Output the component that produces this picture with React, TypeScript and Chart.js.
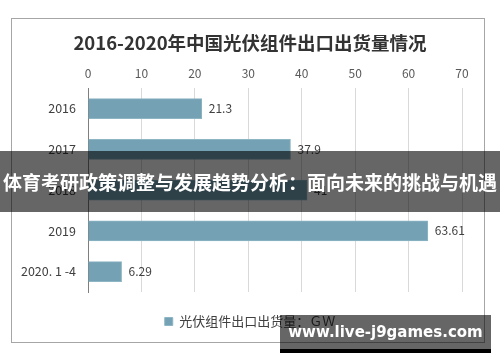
import React, { useEffect, useRef } from "react";
import { Chart, registerables } from "chart.js";

Chart.register(...registerables);

const categories = ["2016", "2017", "2018", "2019", "2020. 1 -4"];
const exportValues = [21.3, 37.9, 41, 63.61, 6.29];
const valueLabels = ["21.3", "37.9", "41", "63.61", "6.29"];
const xTicks = [0, 10, 20, 30, 40, 50, 60, 70];
const seriesName = "光伏组件出口出货量：ＧＷ";
const chartTitle = "2016-2020年中国光伏组件出口出货量情况";
const bannerText = "体育考研政策调整与发展趋势分析：面向未来的挑战与机遇";
const watermarkText = "www.live-j9games.com";

const FONT = "'Noto Sans CJK SC', 'Noto Sans', sans-serif";

const valueLabelPlugin = {
  id: "valueLabels",
  afterDatasetsDraw(chart: any) {
    const ctx = chart.ctx;
    const meta = chart.getDatasetMeta(0);
    ctx.save();
    ctx.font = `12px ${FONT}`;
    ctx.fillStyle = "#404040";
    ctx.textAlign = "left";
    ctx.textBaseline = "middle";
    meta.data.forEach((bar: any, i: number) => {
      ctx.fillText(valueLabels[i], bar.x + 7, bar.y);
    });
    ctx.restore();
  },
};

const categoryLabelPlugin = {
  id: "categoryLabels",
  afterDraw(chart: any) {
    const ctx = chart.ctx;
    const yScale = chart.scales.y;
    ctx.save();
    ctx.font = `12.5px ${FONT}`;
    ctx.fillStyle = "#404040";
    ctx.textAlign = "right";
    ctx.textBaseline = "middle";
    categories.forEach((c, i) => {
      ctx.fillText(c, chart.chartArea.left - 12, yScale.getPixelForTick(i));
    });
    ctx.restore();
  },
};

const borderPlugin = {
  id: "outerBorder",
  beforeDraw(chart: any) {
    const ctx = chart.ctx;
    ctx.save();
    ctx.fillStyle = "#ffffff";
    ctx.fillRect(0, 0, chart.width, chart.height);
    ctx.strokeStyle = "#a6a6a6";
    ctx.lineWidth = 1;
    ctx.strokeRect(11.5, 18.5, 473, 324);
    ctx.restore();
  },
};

export default function App() {
  const ref = useRef<HTMLCanvasElement | null>(null);

  useEffect(() => {
    if (!ref.current) return;
    const chart = new Chart(ref.current, {
      type: "bar",
      data: {
        labels: categories,
        datasets: [
          {
            label: seriesName,
            data: exportValues,
            backgroundColor: "#74a1b4",
            borderColor: "#8db5c4",
            borderWidth: 1,
            barThickness: 20,
          },
        ],
      },
      options: {
        indexAxis: "y",
        animation: false,
        responsive: false,
        maintainAspectRatio: false,
        layout: { padding: { left: 38, right: 38, top: 0, bottom: 24 } },
        scales: {
          x: {
            position: "top",
            min: 0,
            max: 70,
            afterBuildTicks(scale: any) {
              scale.ticks = xTicks.map((v) => ({ value: v }));
            },
            afterFit(scale: any) {
              scale.height = 26;
            },
            ticks: {
              stepSize: 10,
              padding: 8,
              color: "#595959",
              font: { family: FONT, size: 12 },
            },
            grid: { color: "#d9d9d9", drawTicks: false },
            border: { display: false },
          },
          y: {
            afterFit(scale: any) {
              scale.width = 50;
            },
            ticks: { display: false },
            grid: { display: false, drawTicks: false },
            border: { display: true, color: "#7f7f7f", width: 1 },
          },
        },
        plugins: {
          title: {
            display: true,
            text: chartTitle,
            color: "#333333",
            font: { family: FONT, size: 18.5, weight: "bold" },
            padding: { top: 32, bottom: 8 },
          },
          legend: {
            position: "bottom",
            labels: {
              boxWidth: 8,
              boxHeight: 8,
              padding: 23,
              color: "#404040",
              font: { family: FONT, size: 13 },
            },
          },
          tooltip: { enabled: false },
        },
      },
      plugins: [borderPlugin, valueLabelPlugin, categoryLabelPlugin],
    } as any);
    return () => chart.destroy();
  }, []);

  return (
    <div style={{ position: "fixed", left: 0, top: 0, width: 500, height: 362, background: "#fff" }}>
      <canvas ref={ref} width={500} height={362} style={{ position: "absolute", left: 0, top: 0 }} />
      <div
        style={{
          position: "absolute",
          left: 0,
          top: 151,
          width: 500,
          height: 61,
          background: "rgba(0,0,0,0.6)",
          color: "#fff",
          fontFamily: FONT,
          fontWeight: "bold",
          fontSize: 19,
          lineHeight: "61px",
          textAlign: "center",
          whiteSpace: "nowrap",
          overflow: "hidden",
        }}
      >
        {bannerText}
      </div>
      <div
        style={{
          position: "absolute",
          left: 280,
          top: 315,
          width: 211,
          height: 34,
          background: "rgba(0,0,0,0.6)",
          borderBottom: "4px solid #000",
          color: "#fff",
          fontFamily: "'DejaVu Sans', sans-serif",
          fontWeight: "bold",
          fontSize: 15,
          lineHeight: "34px",
          textAlign: "center",
          whiteSpace: "nowrap",
        }}
      >
        {watermarkText}
      </div>
    </div>
  );
}
